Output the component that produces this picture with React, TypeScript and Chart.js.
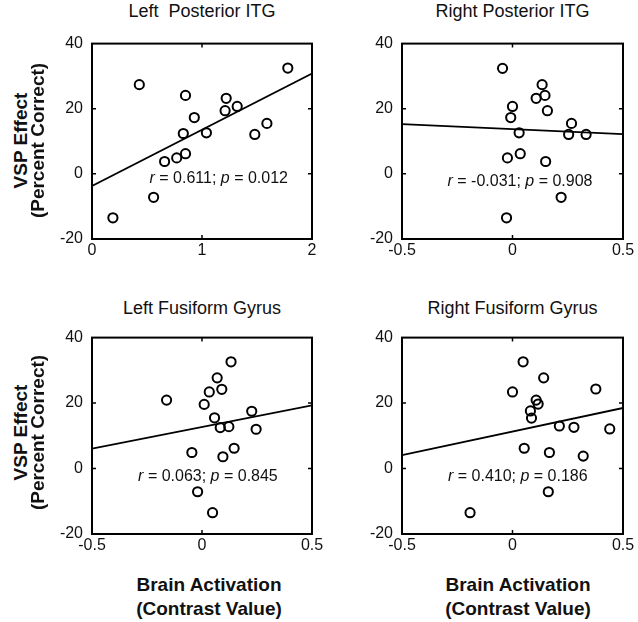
import React, { useEffect, useRef } from 'react';
import { Chart, registerables } from 'chart.js';

Chart.register(...registerables);

const FONT = "'Liberation Sans', Arial, Helvetica, sans-serif";

// ---------- data ----------
const panelTitles = ['Left  Posterior ITG', 'Right Posterior ITG', 'Left Fusiform Gyrus', 'Right Fusiform Gyrus'];

const leftITG_x = [0.19, 0.43, 0.56, 0.66, 0.77, 0.85, 0.83, 0.85, 0.93, 1.04, 1.21, 1.22, 1.32, 1.48, 1.59, 1.78];
const leftITG_y = [-13.5, 27.4, -7.2, 3.8, 4.9, 6.2, 12.4, 24.1, 17.3, 12.6, 19.4, 23.2, 20.7, 12.1, 15.5, 32.5];
const leftITG_fit = [-3.7, 30.8];

const rightITG_x = [-0.045, 0.0, -0.008, 0.03, -0.023, 0.035, -0.027, 0.107, 0.134, 0.147, 0.158, 0.15, 0.22, 0.267, 0.254, 0.333];
const rightITG_y = [32.4, 20.7, 17.3, 12.6, 4.9, 6.2, -13.5, 23.2, 27.4, 24.1, 19.4, 3.8, -7.2, 15.5, 12.1, 12.1];
const rightITG_fit = [15.3, 12.2];

const leftFus_x = [-0.161, -0.046, -0.02, 0.048, 0.01, 0.033, 0.069, 0.09, 0.132, 0.057, 0.083, 0.122, 0.095, 0.146, 0.226, 0.246];
const leftFus_y = [20.9, 4.9, -7.1, -13.5, 19.6, 23.4, 27.7, 24.2, 32.6, 15.5, 12.5, 12.8, 3.6, 6.2, 17.5, 12.0];
const leftFus_fit = [6.1, 19.3];

const rightFus_x = [-0.192, 0.0, 0.048, 0.053, 0.081, 0.086, 0.107, 0.116, 0.141, 0.167, 0.162, 0.212, 0.278, 0.32, 0.377, 0.44];
const rightFus_y = [-13.5, 23.4, 32.6, 6.2, 17.6, 15.4, 20.9, 19.7, 27.7, 4.9, -7.1, 13.0, 12.6, 3.8, 24.3, 12.1];
const rightFus_fit = [4.1, 18.5];

const xTicksITGLeft = [0, 1, 2];
const xTicksCentered = [-0.5, 0, 0.5];
const yTicks = [-20, 0, 20, 40];

const rValues = ['0.611', '-0.031', '0.063', '0.410'];
const pValues = ['0.012', '0.908', '0.845', '0.186'];

const yLabelLines = ['VSP Effect', '(Percent Correct)'];
const xLabelLines = ['Brain Activation', '(Contrast Value)'];

// ---------- layout ----------
const Y_AXIS_W = 60;
const PAD_TOP = 12;
const PAD_RIGHT = 16;
const X_AXIS_H = 30;

type PanelCfg = {
  xs: number[];
  ys: number[];
  fit: number[];
  xTicks: number[];
  r: string;
  p: string;
  box: { L: number; T: number; W: number; H: number };
  annot: { fx: number; fy: number };
};

const panels: PanelCfg[] = [
  { xs: leftITG_x, ys: leftITG_y, fit: leftITG_fit, xTicks: xTicksITGLeft, r: rValues[0], p: pValues[0],
    box: { L: 92, T: 37, W: 220, H: 202 }, annot: { fx: 0.576, fy: 0.693 } },
  { xs: rightITG_x, ys: rightITG_y, fit: rightITG_fit, xTicks: xTicksCentered, r: rValues[1], p: pValues[1],
    box: { L: 402, T: 37, W: 221, H: 202 }, annot: { fx: 0.534, fy: 0.708 } },
  { xs: leftFus_x, ys: leftFus_y, fit: leftFus_fit, xTicks: xTicksCentered, r: rValues[2], p: pValues[2],
    box: { L: 92, T: 331, W: 220, H: 203 }, annot: { fx: 0.527, fy: 0.709 } },
  { xs: rightFus_x, ys: rightFus_y, fit: rightFus_fit, xTicks: xTicksCentered, r: rValues[3], p: pValues[3],
    box: { L: 402, T: 331, W: 221, H: 203 }, annot: { fx: 0.524, fy: 0.709 } },
];

const framePlugin = {
  id: 'frame',
  afterDraw(chart: any, _args: any, opts: any) {
    const { ctx, chartArea } = chart;
    const { left, top, right, bottom } = chartArea;
    const xs = chart.scales.x;
    const ys = chart.scales.y;
    ctx.save();
    ctx.strokeStyle = '#000';
    // inward ticks
    ctx.lineWidth = 1.5;
    const TL = 4;
    ctx.beginPath();
    (opts.xTicks || []).forEach((v: number) => {
      const px = xs.getPixelForValue(v);
      if (px <= left + 1 || px >= right - 1) return;
      ctx.moveTo(px, bottom);
      ctx.lineTo(px, bottom - TL);
      ctx.moveTo(px, top);
      ctx.lineTo(px, top + TL);
    });
    (opts.yTicks || []).forEach((v: number) => {
      const py = ys.getPixelForValue(v);
      if (py <= top + 1 || py >= bottom - 1) return;
      ctx.moveTo(left, py);
      ctx.lineTo(left + TL, py);
      ctx.moveTo(right, py);
      ctx.lineTo(right - TL, py);
    });
    ctx.stroke();
    // frame
    ctx.lineWidth = 2;
    ctx.strokeRect(left, top, right - left, bottom - top);
    // annotation
    const segs = [
      { t: 'r', it: true },
      { t: ' = ' + opts.r + '; ', it: false },
      { t: 'p', it: true },
      { t: ' = ' + opts.p, it: false },
    ];
    const fs = 16;
    let total = 0;
    const widths = segs.map((s) => {
      ctx.font = `${s.it ? 'italic ' : ''}${fs}px ${FONT}`;
      const w = ctx.measureText(s.t).width;
      total += w;
      return w;
    });
    const cx = left + (right - left) * opts.fx;
    const cy = top + (bottom - top) * opts.fy;
    let x = cx - total / 2;
    ctx.fillStyle = '#111';
    ctx.textBaseline = 'middle';
    ctx.textAlign = 'left';
    segs.forEach((s, i) => {
      ctx.font = `${s.it ? 'italic ' : ''}${fs}px ${FONT}`;
      ctx.fillText(s.t, x, cy);
      x += widths[i];
    });
    ctx.restore();
  },
};

function Panel({ cfg }: { cfg: PanelCfg }) {
  const ref = useRef<HTMLCanvasElement | null>(null);
  const cw = cfg.box.W + Y_AXIS_W + PAD_RIGHT;
  const ch = cfg.box.H + PAD_TOP + X_AXIS_H;

  useEffect(() => {
    if (!ref.current) return;
    const xMin = cfg.xTicks[0];
    const xMax = cfg.xTicks[cfg.xTicks.length - 1];
    const pts = cfg.xs.map((x, i) => ({ x, y: cfg.ys[i] }));
    const chart = new Chart(ref.current, {
      type: 'scatter',
      data: {
        datasets: [
          {
            type: 'line',
            data: [
              { x: xMin, y: cfg.fit[0] },
              { x: xMax, y: cfg.fit[1] },
            ],
            borderColor: '#000',
            borderWidth: 1.8,
            pointRadius: 0,
            fill: false,
          } as any,
          {
            type: 'scatter',
            data: pts,
            pointRadius: 4.6,
            pointBorderWidth: 2,
            borderColor: '#000',
            backgroundColor: 'rgba(255,255,255,0)',
            pointBackgroundColor: 'rgba(255,255,255,0)',
            pointBorderColor: '#000',
          } as any,
        ],
      },
      options: {
        animation: false,
        responsive: false,
        maintainAspectRatio: false,
        layout: { padding: { top: PAD_TOP, right: PAD_RIGHT, left: 0, bottom: 0 } },
        plugins: {
          legend: { display: false },
          tooltip: { enabled: false },
          frame: { xTicks: cfg.xTicks, yTicks, r: cfg.r, p: cfg.p, fx: cfg.annot.fx, fy: cfg.annot.fy },
        } as any,
        scales: {
          x: {
            type: 'linear',
            min: xMin,
            max: xMax,
            grid: { display: false, drawTicks: false },
            border: { display: false },
            ticks: {
              color: '#111',
              font: { family: FONT, size: 16 },
              padding: 2,
              maxRotation: 0,
              autoSkip: false,
              callback: (v: any) => String(v),
            },
            afterBuildTicks: (s: any) => {
              s.ticks = cfg.xTicks.map((v) => ({ value: v }));
            },
            afterFit: (s: any) => {
              s.height = X_AXIS_H;
            },
          },
          y: {
            type: 'linear',
            min: yTicks[0],
            max: yTicks[yTicks.length - 1],
            grid: { display: false, drawTicks: false },
            border: { display: false },
            ticks: {
              color: '#111',
              font: { family: FONT, size: 16 },
              padding: 9,
              autoSkip: false,
              callback: (v: any) => String(v),
            },
            afterBuildTicks: (s: any) => {
              s.ticks = yTicks.map((v) => ({ value: v }));
            },
            afterFit: (s: any) => {
              s.width = Y_AXIS_W;
            },
          },
        },
      } as any,
      plugins: [framePlugin],
    });
    return () => chart.destroy();
  }, []);

  return (
    <canvas
      ref={ref}
      width={cw}
      height={ch}
      style={{
        position: 'absolute',
        left: cfg.box.L - Y_AXIS_W,
        top: cfg.box.T - PAD_TOP,
        width: cw,
        height: ch,
      }}
    />
  );
}

function HText({ text, cx, cy, size, bold }: { text: string; cx: number; cy: number; size: number; bold?: boolean }) {
  return (
    <div
      style={{
        position: 'absolute',
        left: cx - 150,
        top: cy - size / 2,
        width: 300,
        height: size,
        lineHeight: `${size}px`,
        fontSize: size,
        fontFamily: FONT,
        fontWeight: bold ? 'bold' : 'normal',
        textAlign: 'center',
        whiteSpace: 'pre',
        color: '#111',
      }}
    >
      {text}
    </div>
  );
}

function VText({ text, cx, cy, size }: { text: string; cx: number; cy: number; size: number }) {
  return (
    <div
      style={{
        position: 'absolute',
        left: cx - 120,
        top: cy - size / 2,
        width: 240,
        height: size,
        lineHeight: `${size}px`,
        fontSize: size,
        fontFamily: FONT,
        fontWeight: 'bold',
        textAlign: 'center',
        whiteSpace: 'pre',
        color: '#111',
        transform: 'rotate(-90deg)',
        transformOrigin: '50% 50%',
      }}
    >
      {text}
    </div>
  );
}

export default function App() {
  const titlePos = [
    { cx: 202, cy: 11 },
    { cx: 512.5, cy: 11 },
    { cx: 202, cy: 308 },
    { cx: 512.5, cy: 308 },
  ];
  return (
    <div style={{ position: 'absolute', left: 0, top: 0, width: 638, height: 622, background: '#fff', overflow: 'hidden' }}>
      {panels.map((p, i) => (
        <Panel key={i} cfg={p} />
      ))}
      {panelTitles.map((t, i) => (
        <HText key={'t' + i} text={t} cx={titlePos[i].cx} cy={titlePos[i].cy} size={18} />
      ))}
      {[140, 432].map((cy, i) => (
        <React.Fragment key={'y' + i}>
          <VText text={yLabelLines[0]} cx={20} cy={cy} size={19} />
          <VText text={yLabelLines[1]} cx={36.5} cy={cy} size={19} />
        </React.Fragment>
      ))}
      {[209, 518].map((cx, i) => (
        <React.Fragment key={'x' + i}>
          <HText text={xLabelLines[0]} cx={cx} cy={584} size={19} bold />
          <HText text={xLabelLines[1]} cx={cx} cy={608} size={19} bold />
        </React.Fragment>
      ))}
    </div>
  );
}
